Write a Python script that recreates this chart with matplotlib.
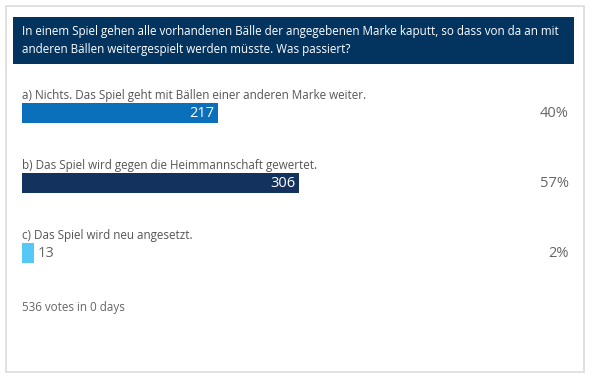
import matplotlib.pyplot as plt
from matplotlib.patches import Rectangle
import matplotlib.transforms as mtransforms

plt.rcParams['font.family'] = ['Open Sans', 'DejaVu Sans']

# poll data
question = ("In einem Spiel gehen alle vorhandenen Bälle der angegebenen Marke kaputt, so dass von da an mit\n"
            "anderen Bällen weitergespielt werden müsste. Was passiert?")
answers = ["a) Nichts. Das Spiel geht mit Bällen einer anderen Marke weiter.",
           "b) Das Spiel wird gegen die Heimmannschaft gewertet.",
           "c) Das Spiel wird neu angesetzt."]
votes = [217, 306, 13]
percents = ["40%", "57%", "2%"]
bar_colors = ["#0a70bb", "#14325e", "#55c8f5"]
total = sum(votes)
footer = f"{total} votes in 0 days"

W, H = 590, 377
fig = plt.figure(figsize=(W / 100, H / 100), dpi=100)

# background frame in pixel coords
bg = fig.add_axes([0, 0, 1, 1])
bg.set_xlim(0, W)
bg.set_ylim(H, 0)
bg.axis('off')
bg.add_patch(Rectangle((5.5, 5.5), 578, 366, facecolor='white', edgecolor='#dcdcdc', lw=1.2))
bg.add_patch(Rectangle((13, 16.5), 561, 47.5, facecolor='#03345f', edgecolor='none'))
bg.text(22, 40.5, question, color='white', fontsize=8.35, va='center', ha='left', linespacing=1.42)
bg.text(22, 308, footer, color='#666666', fontsize=8.35, va='center', ha='left')

# bar axes: x scale 0..total votes
left_px, right_px = 22, 22 + total * 0.905
top_px, bot_px = 78, 288
ax = fig.add_axes([left_px / W, 1 - bot_px / H, (right_px - left_px) / W, (bot_px - top_px) / H])
ax.set_xlim(0, total)
ax.set_ylim(len(votes) - 0.5, -0.5)
ax.axis('off')
ax.patch.set_alpha(0)

ypos = list(range(len(votes)))
ax.barh(ypos, votes, height=0.29, color=bar_colors, align='center')

pct_trans = mtransforms.blended_transform_factory(fig.transFigure, ax.transData)
for i, (lab, v, p) in enumerate(zip(answers, votes, percents)):
    ax.text(0, i - 0.255, lab, color='#555555', fontsize=8.35, va='center', ha='left')
    if v > 30:
        ax.text(v - 4, i + 0.01, str(v), color='white', fontsize=10.5, va='center', ha='right')
    else:
        ax.text(v + 4, i + 0.01, str(v), color='#666666', fontsize=10.5, va='center', ha='left')
    ax.text(569 / W, i + 0.01, p, transform=pct_trans, color='#666666', fontsize=10.5,
            va='center', ha='right')

fig.savefig('out.png', dpi=100)
